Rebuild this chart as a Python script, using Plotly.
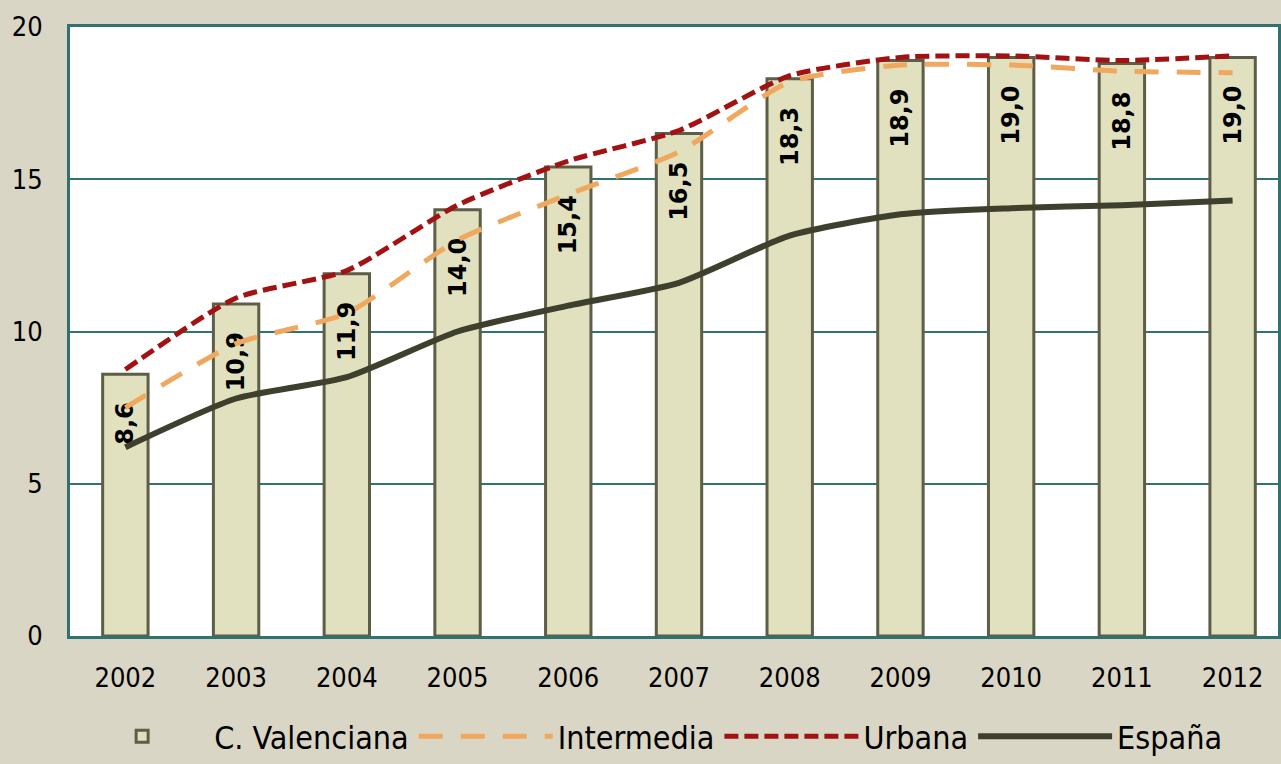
import plotly.graph_objects as go

years = ["2002", "2003", "2004", "2005", "2006", "2007", "2008", "2009", "2010", "2011", "2012"]
valenciana = [8.6, 10.9, 11.9, 14.0, 15.4, 16.5, 18.3, 18.9, 19.0, 18.8, 19.0]
intermedia = [7.5, 9.6, 10.6, 13.0, 14.5, 15.9, 18.2, 18.75, 18.75, 18.55, 18.5]
urbana = [8.75, 11.1, 12.0, 14.15, 15.6, 16.6, 18.4, 19.0, 19.05, 18.9, 19.05]
espana = [6.2, 7.8, 8.5, 10.0, 10.85, 11.6, 13.15, 13.85, 14.05, 14.15, 14.3]
labels = [f"{v:.1f}".replace(".", ",") + "\u00a0\u00a0\u00a0" for v in valenciana]

BG = "#DAD6C6"
GRID = "#2E7272"

fig = go.Figure()
fig.add_trace(go.Bar(
    x=years, y=valenciana, name="C. Valenciana",
    marker=dict(color="#E1E0BF", line=dict(color="#5E5E48", width=3)),
    width=0.41,
    text=labels, textposition="inside", insidetextanchor="end", textangle=-90,
    textfont=dict(family="DejaVu Sans", size=24, color="black", weight="bold"),
))
fig.add_trace(go.Scatter(
    x=years, y=intermedia, name="Intermedia", mode="lines",
    line=dict(color="#F0A85E", width=5, dash="24px,18px", shape="spline", smoothing=0.6),
))
fig.add_trace(go.Scatter(
    x=years, y=urbana, name="Urbana", mode="lines",
    line=dict(color="#A31212", width=5, dash="14px,6px", shape="spline", smoothing=0.6),
))
fig.add_trace(go.Scatter(
    x=years, y=espana, name="España", mode="lines",
    line=dict(color="#3F3F2E", width=6, shape="spline", smoothing=0.6),
))

fig.update_layout(
    width=1281, height=764,
    paper_bgcolor=BG, plot_bgcolor="white",
    margin=dict(l=70, r=0, t=27, b=128),
    font=dict(family="DejaVu Sans Condensed, DejaVu Sans", size=26, color="black"),
    showlegend=True,
    legend=dict(orientation="h", x=0.479, xanchor="center",
                yref="container", y=0, yanchor="bottom",
                font=dict(size=32), bgcolor="rgba(0,0,0,0)",
                itemwidth=134),
    bargap=0.6,
)
fig.update_xaxes(
    type="category", range=[-0.5, 10.41],
    showgrid=False, showline=True, linecolor=GRID, linewidth=3, mirror=True,
    ticks="", ticklabelstandoff=16,
    tickfont=dict(size=27),
)
fig.update_yaxes(
    range=[0, 20], dtick=5, showgrid=True, gridcolor=GRID, gridwidth=1.5,
    showline=True, linecolor=GRID, linewidth=3, mirror=True,
    zeroline=False, ticks="", ticklabelstandoff=19,
    tickfont=dict(size=27),
)

fig.write_html("out.html", config={"displayModeBar": False},
               post_script="document.body.style.margin='0';")
